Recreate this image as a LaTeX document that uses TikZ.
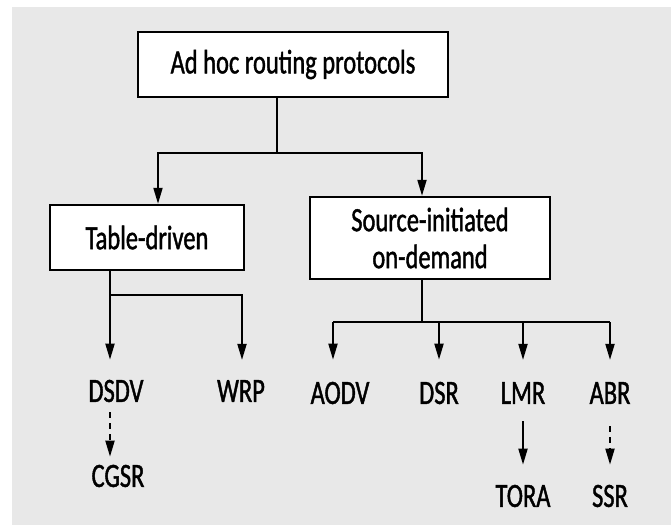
\documentclass[tikz,border=0pt]{standalone}
\usepackage{fontspec}
\setmainfont[FakeStretch=0.72,FakeBold=1.2]{Carlito}
\usetikzlibrary{arrows.meta}
\definecolor{bgc}{RGB}{232,232,232}
\begin{document}
\begin{tikzpicture}[x=1pt,y=-1pt,
  box/.style={draw=black, line width=2.4pt, fill=white, inner sep=0pt, align=center,
              font=\fontsize{34}{37}\selectfont},
  lbl/.style={inner sep=0pt, font=\fontsize{34}{37}\selectfont},
  line/.style={line width=1.9pt},
  conn/.style={line width=1.9pt, -{Triangle[length=16pt,width=9pt]}},
  dconn/.style={conn, dash pattern=on 6pt off 5pt}]
\useasboundingbox (0,0) rectangle (671,525);
\fill[white] (0,0) rectangle (671,525);
\fill[bgc] (12,7) rectangle (671,525);

% boxes
\node[box, minimum width=310pt, minimum height=65pt] (root) at (293,64.5) {Ad hoc routing protocols};
\node[box, minimum width=194pt, minimum height=65pt] (td) at (147,237.5) {Table-driven};
\node[box, minimum width=240pt, minimum height=82pt] (si) at (430,238) {Source-initiated\\on-demand};

% labels
\node[lbl] (dsdv) at (116,391) {DSDV};
\node[lbl] (wrp)  at (241,391) {WRP};
\node[lbl] (aodv) at (340,393) {AODV};
\node[lbl] (dsr)  at (439,393) {DSR};
\node[lbl] (lmr)  at (523,393) {LMR};
\node[lbl] (abr)  at (610,393) {ABR};
\node[lbl] (cgsr) at (118,476) {CGSR};
\node[lbl] (tora) at (523,496) {TORA};
\node[lbl] (ssr)  at (610,496) {SSR};

% junctions
\coordinate (j1)  at (277,153);
\coordinate (j1l) at (158,153);
\coordinate (j1r) at (422,153);
\coordinate (j2)  at (110,295);
\coordinate (j2r) at (242,295);
\coordinate (j3)  at (422,322);
\coordinate (j3a) at (333,322);
\coordinate (j3b) at (610,322);

% root to children
\draw[line] (root.south -| j1) -- (j1);
\draw[conn] (j1) -- (j1l) -- (j1l |- td.north);
\draw[conn] (j1) -- (j1r) -- (j1r |- si.north);

% table-driven
\draw[conn, shorten >=20pt] (td.south -| j2) -- (dsdv.north -| j2);
\draw[conn, shorten >=20pt] (j2) -- (j2r) -- (wrp.north -| j2r);

% source-initiated
\draw[line] (si.south -| j3) -- (j3);
\draw[line] (j3a) -- (j3b);
\draw[conn, shorten >=22pt] (j3a) -- (aodv.north -| j3a);
\draw[conn, shorten >=22pt] (dsr.north |- j3) -- (dsr.north);
\draw[conn, shorten >=22pt] (lmr.north |- j3) -- (lmr.north);
\draw[conn, shorten >=22pt] (j3b) -- (abr.north -| j3b);

% second level
\draw[dconn, shorten <=10pt, shorten >=8pt] (dsdv.south -| j2) -- (cgsr.north -| j2);
\draw[conn, shorten <=17pt, shorten >=20pt] (lmr.south) -- (tora.north);
\draw[dconn, shorten <=22pt, shorten >=20pt] (abr.south) -- (ssr.north);
\end{tikzpicture}
\end{document}
